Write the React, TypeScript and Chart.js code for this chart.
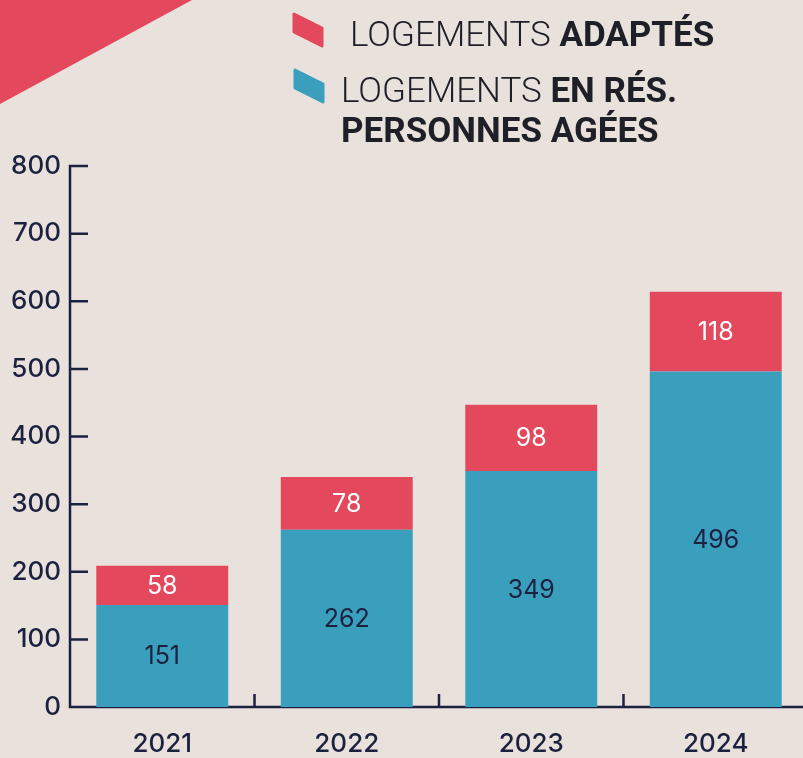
import React, { useEffect, useRef } from "react";
import { Chart, registerables } from "chart.js";

Chart.register(...registerables);

// ---- data ----
const categories = ["2021", "2022", "2023", "2024"];
const residencesValues = [151, 262, 349, 496];
const adaptesValues = [58, 78, 98, 118];
const yMin = 0;
const yMax = 800;
const yStep = 100;
const legendAdaptes = ["LOGEMENTS ", "ADAPTÉS"];
const legendResidences = ["LOGEMENTS ", "EN RÉS.", "PERSONNES AGÉES"];

// ---- styles ----
const NAVY = "#1c2140";
const TEXT = "#1f1f27";
const RED = "#e3485d";
const BLUE = "#3a9ebd";
const PAPER = "#e9e1dc";
const FONT = "Roboto, 'Open Sans', sans-serif";
const NUMFONT = "Inter, Roboto, sans-serif";

const decorPlugin = {
  id: "decor",
  beforeDraw(chart: any) {
    const { ctx, width, height } = chart;
    ctx.save();
    ctx.fillStyle = PAPER;
    ctx.fillRect(0, 0, width, height);
    ctx.fillStyle = RED;
    ctx.beginPath();
    ctx.moveTo(0, 0);
    ctx.lineTo(192, 0);
    ctx.lineTo(0, 104);
    ctx.closePath();
    ctx.fill();
    ctx.restore();
  },
  beforeDatasetsDraw(chart: any) {
    const { ctx, chartArea: a, scales } = chart;
    const x = scales.x;
    const y = scales.y;
    ctx.save();
    ctx.strokeStyle = NAVY;
    ctx.lineWidth = 2.5;
    ctx.beginPath();
    // y axis line
    ctx.moveTo(a.left, y.getPixelForValue(yMax) - 1.25);
    ctx.lineTo(a.left, a.bottom + 1.25);
    // inward y ticks
    y.ticks.forEach((t: any) => {
      if (t.value === yMin) return;
      const py = y.getPixelForValue(t.value);
      ctx.moveTo(a.left, py);
      ctx.lineTo(a.left + 18, py);
    });
    // x axis line
    ctx.moveTo(a.left, a.bottom);
    ctx.lineTo(a.right, a.bottom);
    // x ticks between categories
    for (let i = 1; i < categories.length; i++) {
      const px = (x.getPixelForValue(i - 1) + x.getPixelForValue(i)) / 2;
      ctx.moveTo(px, a.bottom);
      ctx.lineTo(px, a.bottom - 13);
    }
    ctx.stroke();
    ctx.restore();
  },
  afterDatasetsDraw(chart: any) {
    const { ctx } = chart;
    ctx.save();
    ctx.textAlign = "center";
    ctx.textBaseline = "middle";
    ctx.font = `400 25px ${NUMFONT}`;
    chart.data.datasets.forEach((ds: any, di: number) => {
      const meta = chart.getDatasetMeta(di);
      ctx.fillStyle = di === 0 ? NAVY : "#ffffff";
      meta.data.forEach((bar: any, i: number) => {
        const cy = (bar.y + bar.base) / 2;
        ctx.fillText(String(ds.data[i]), bar.x, cy + 1);
      });
    });
    ctx.restore();
  },
};

function Marker({ color, top, left }: { color: string; top: number; left: number }) {
  return (
    <svg
      width={40}
      height={44}
      style={{ position: "absolute", top, left, overflow: "visible" }}
    >
      <path
        d="M3 3 L31 17 L31 35 L3 21 Z"
        fill={color}
        stroke={color}
        strokeWidth={3}
        strokeLinejoin="round"
      />
    </svg>
  );
}

export default function App() {
  const canvasRef = useRef<HTMLCanvasElement | null>(null);

  useEffect(() => {
    if (!canvasRef.current) return;
    const chart = new Chart(canvasRef.current, {
      type: "bar",
      data: {
        labels: categories,
        datasets: [
          {
            label: legendResidences.join(""),
            data: residencesValues,
            backgroundColor: BLUE,
            borderWidth: 0,
            categoryPercentage: 1,
            barPercentage: 0.715,
          },
          {
            label: legendAdaptes.join(""),
            data: adaptesValues,
            backgroundColor: RED,
            borderWidth: 0,
            categoryPercentage: 1,
            barPercentage: 0.715,
          },
        ],
      },
      options: {
        animation: false,
        responsive: false,
        devicePixelRatio: 1,
        layout: { padding: { top: 166, right: 0, bottom: 0, left: 0 } },
        plugins: {
          legend: { display: false },
          tooltip: { enabled: false },
        },
        scales: {
          x: {
            stacked: true,
            grid: { display: false, drawTicks: false },
            border: { display: false },
            ticks: {
              color: NAVY,
              padding: 22,
              font: { family: NUMFONT, size: 26, weight: "500" },
            },
            afterFit(scale: any) {
              scale.height = 51;
            },
          },
          y: {
            stacked: true,
            min: yMin,
            max: yMax,
            grid: { display: false, drawTicks: false },
            border: { display: false },
            ticks: {
              stepSize: yStep,
              color: NAVY,
              padding: 9,
              font: { family: NUMFONT, size: 26, weight: "500" },
            },
            afterFit(scale: any) {
              scale.width = 70;
            },
          },
        },
      },
      plugins: [decorPlugin],
    } as any);
    return () => chart.destroy();
  }, []);

  const textBase: React.CSSProperties = {
    position: "absolute",
    fontFamily: FONT,
    fontSize: 35,
    lineHeight: 1,
    color: TEXT,
    whiteSpace: "nowrap",
  };

  return (
    <div
      style={{
        position: "absolute",
        top: 0,
        left: 0,
        width: 803,
        height: 758,
        overflow: "hidden",
        background: PAPER,
      }}
    >
      <canvas
        ref={canvasRef}
        width={808}
        height={758}
        style={{ position: "absolute", top: 0, left: 0, width: 808, height: 758 }}
      />
      <Marker color={RED} top={11} left={291} />
      <Marker color={BLUE} top={67} left={292} />
      <div style={{ ...textBase, top: 17, left: 350 }}>
        <span style={{ fontWeight: 300 }}>{legendAdaptes[0]}</span>
        <span style={{ fontWeight: 700 }}>{legendAdaptes[1]}</span>
      </div>
      <div style={{ ...textBase, top: 73, left: 341 }}>
        <span style={{ fontWeight: 300 }}>{legendResidences[0]}</span>
        <span style={{ fontWeight: 700 }}>{legendResidences[1]}</span>
      </div>
      <div style={{ ...textBase, top: 113, left: 341, fontWeight: 700 }}>
        {legendResidences[2]}
      </div>
    </div>
  );
}
